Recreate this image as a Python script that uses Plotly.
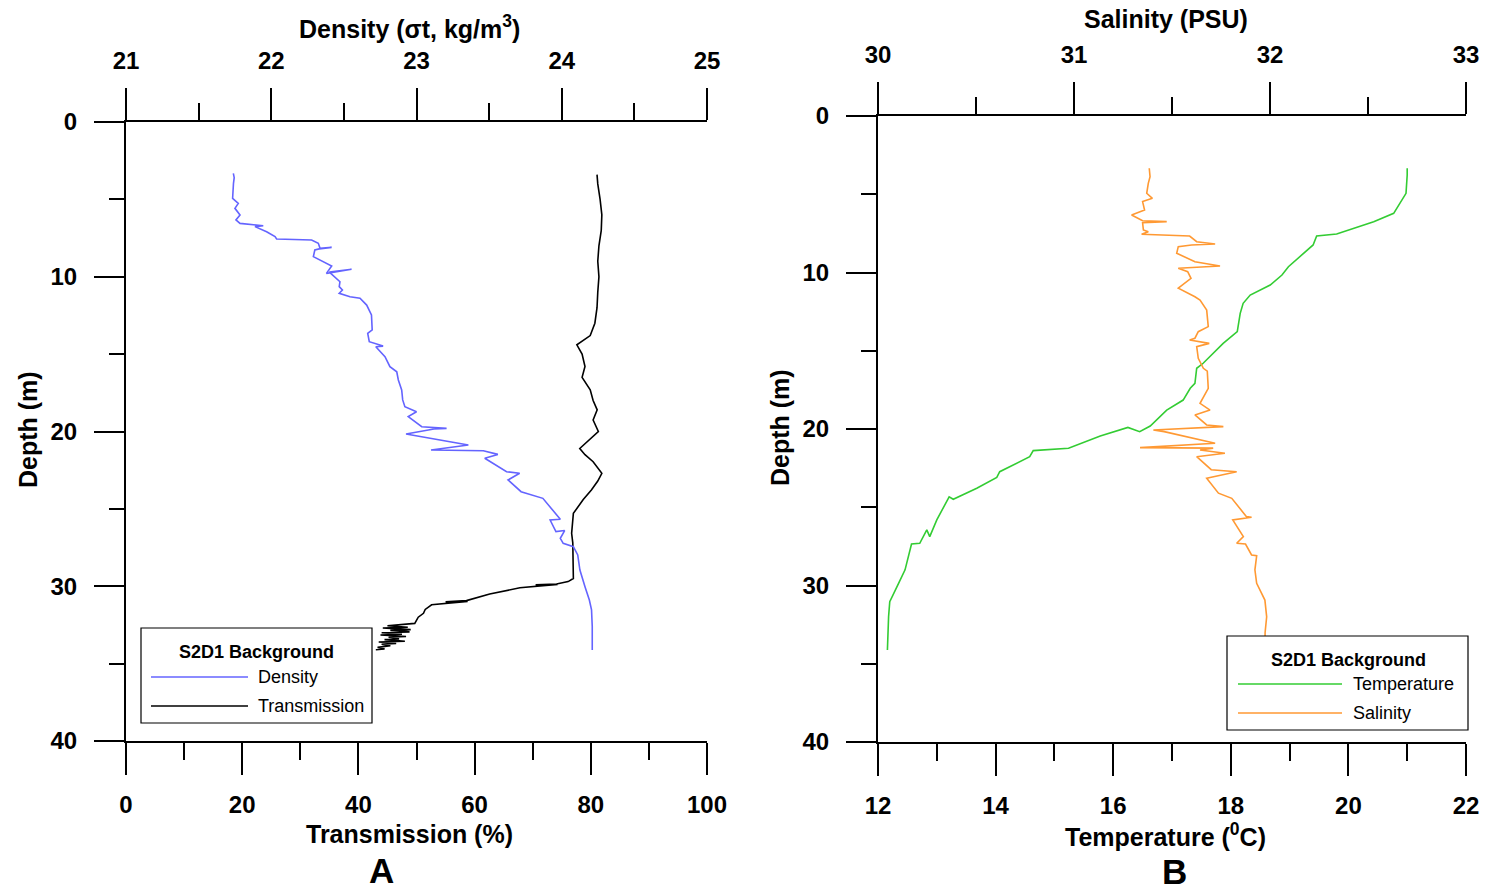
import plotly.graph_objects as go

W, H = 1487, 890

# ---------------- data ----------------
dens_depth = [3.32, 3.6, 3.96, 4.5, 4.93, 5.26, 5.58, 6.01, 6.33, 6.55, 6.66, 6.70, 6.76, 7.09, 7.41,
              7.56, 7.63, 7.84, 8.16, 8.10, 8.20, 8.27, 8.70, 9.31, 9.78, 9.52, 9.70, 10.32, 10.64,
              10.86, 11.07, 11.29, 11.39, 11.83, 12.47, 13.44, 13.66, 14.20, 14.48, 14.52, 15.17,
              15.81, 16.14, 16.67, 17.32, 17.96, 18.40, 18.72, 19.04, 19.69, 19.80, 19.84, 20.16,
              20.66, 20.87, 21.20, 21.24, 21.48, 21.73, 22.60, 22.70, 23.13, 23.89, 24.32, 25.07,
              25.67, 25.72, 26.47, 26.40, 26.90, 27.23, 27.44, 27.98, 28.95, 30.03, 30.89, 31.53,
              32.61, 34.12]
dens_val = [21.739, 21.745, 21.74, 21.735, 21.734, 21.773, 21.75, 21.785, 21.757, 21.785, 21.876,
            21.945, 21.888, 21.968, 22.026, 22.037, 22.278, 22.324, 22.336, 22.416, 22.33, 22.30,
            22.29, 22.416, 22.38, 22.553, 22.40, 22.473, 22.468, 22.49, 22.468, 22.542, 22.611,
            22.657, 22.69, 22.695, 22.664, 22.675, 22.77, 22.72, 22.783, 22.817, 22.864, 22.875,
            22.898, 22.905, 22.92, 23.0, 22.943, 23.036, 23.207, 23.12, 22.928, 23.23, 23.357,
            23.10, 23.46, 23.56, 23.47, 23.62, 23.71, 23.63, 23.72, 23.87, 23.94, 23.99, 23.92,
            23.96, 24.02, 23.99, 24.01, 24.08, 24.11, 24.125, 24.16, 24.19, 24.205, 24.21, 24.21]

trans_depth = [3.4, 4.0, 5.0, 6.0, 7.0, 8.0, 9.0, 10.0, 11.0, 12.0, 13.0, 13.8, 14.4, 15.0, 15.8,
               16.5, 17.3, 18.0, 18.6, 19.26, 20.0, 20.5, 21.1, 21.5, 21.95, 22.7, 23.2, 23.78,
               24.4, 25.29, 25.9, 26.58, 27.2, 28.95, 29.5, 29.7, 29.85, 29.9, 29.88, 30.1, 30.5,
               30.93, 31.0, 30.98, 31.2, 31.5, 31.75, 32.0, 32.4, 32.55, 32.65, 32.7, 32.8, 32.85,
               32.95, 33.0, 33.1, 33.15, 33.25, 33.3, 33.4, 33.45, 33.55, 33.6, 33.7, 33.75, 33.85,
               33.95, 34.05, 34.1]
trans_val = [81.07, 81.2, 81.6, 81.9, 81.8, 81.4, 81.2, 81.4, 81.2, 81.07, 80.7, 79.9, 77.6, 78.5,
             79.0, 78.5, 79.9, 80.4, 81.1, 80.4, 81.3, 79.9, 78.1, 79.0, 80.4, 81.9, 81.2, 80.1,
             78.7, 77.0, 76.8, 76.7, 76.9, 76.9, 77.0, 76.1, 74.1, 70.5, 74.3, 67.8, 62.6,
             58.6, 55.0, 58.8, 52.6, 51.5, 51.2, 50.3, 49.7, 45.0, 48.5, 44.2, 49.0, 45.5,
             48.8, 44.0, 47.5, 43.8, 48.2, 45.2, 47.0, 44.5, 48.0, 43.5, 46.5, 44.0, 45.5,
             43.3, 44.5, 43.0]

temp_depth = [3.34, 3.77, 4.94, 5.37, 6.22, 6.75, 7.54, 7.67, 8.24, 9.63, 10.16, 10.8, 11.44, 11.97,
              12.61, 13.78, 14.53, 15.80, 16.12, 17.08, 17.40, 18.15, 18.79, 19.81, 20.17, 19.90,
              20.45, 21.23, 21.38, 21.77, 22.73, 23.09, 23.79, 24.49, 24.33, 25.81, 26.88, 26.45,
              27.3, 27.35, 28.05, 29.0, 29.86, 31.03, 32.0, 34.12]
temp_val = [21.0, 21.0, 20.98, 20.91, 20.77, 20.43, 19.80, 19.46, 19.40, 18.98, 18.87, 18.67, 18.33,
            18.21, 18.16, 18.11, 17.87, 17.53, 17.42, 17.39, 17.31, 17.19, 16.91, 16.63, 16.45,
            16.25, 15.78, 15.24, 14.64, 14.58, 14.07, 14.02, 13.68, 13.28, 13.21, 13.00, 12.88,
            12.83, 12.71, 12.57, 12.52, 12.46, 12.35, 12.20, 12.18, 12.16]

sal_depth = [3.34, 3.88, 4.30, 4.94, 5.26, 5.47, 6.01, 6.33, 6.69, 6.75, 6.82, 7.28, 7.39, 7.56, 7.67,
             8.03, 8.18, 8.24, 8.35, 8.77, 9.31, 9.58, 9.73, 9.95, 10.37, 11.0, 11.55, 11.76, 12.40,
             13.46, 13.78, 14.2, 14.31, 14.53, 14.74, 15.48, 16.12, 16.3, 17.4, 18.36, 18.79, 19.1,
             19.74, 19.85, 20.06, 20.17, 20.91, 21.19, 21.22, 21.34, 21.55, 21.77, 22.6, 22.73,
             23.15, 24.1, 24.43, 25.6, 25.64, 25.81, 26.88, 27.3, 27.35, 28.05, 28.1, 29.0, 29.86,
             30.93, 32.0, 33.0, 34.12]
sal_val = [31.384, 31.388, 31.379, 31.371, 31.40, 31.35, 31.36, 31.294, 31.35, 31.473, 31.35, 31.354,
           31.379, 31.345, 31.59, 31.626, 31.72, 31.60, 31.532, 31.524, 31.617, 31.745, 31.532,
           31.58, 31.597, 31.532, 31.617, 31.643, 31.677, 31.685, 31.634, 31.617, 31.59, 31.69,
           31.626, 31.634, 31.66, 31.68, 31.685, 31.643, 31.694, 31.617, 31.677, 31.762, 31.405,
           31.46, 31.72, 31.337, 31.71, 31.643, 31.77, 31.626, 31.70, 31.83, 31.677, 31.737,
           31.805, 31.88, 31.906, 31.81, 31.864, 31.83, 31.875, 31.906, 31.932, 31.923, 31.932,
           31.974, 31.983, 31.975, 31.974]

legend_title = "S2D1 Background"
legend_a = ["Density", "Transmission"]
legend_b = ["Temperature", "Salinity"]

# ---------------- style ----------------
FONT = "Liberation Sans, Arial, sans-serif"
C_DENS, C_TRANS, C_TEMP, C_SAL = "#6464FF", "#000000", "#33CC33", "#FF9933"


def px(x):
    return x / W


def py(y):
    return 1 - y / H


fig = go.Figure()
fig.add_trace(go.Scatter(x=trans_val, y=trans_depth, xaxis="x", yaxis="y", mode="lines",
                         line=dict(color=C_TRANS, width=1.6), name=legend_a[1]))
fig.add_trace(go.Scatter(x=dens_val, y=dens_depth, xaxis="x2", yaxis="y", mode="lines",
                         line=dict(color=C_DENS, width=1.6), name=legend_a[0]))
fig.add_trace(go.Scatter(x=temp_val, y=temp_depth, xaxis="x3", yaxis="y2", mode="lines",
                         line=dict(color=C_TEMP, width=1.6), name=legend_b[0]))
fig.add_trace(go.Scatter(x=sal_val, y=sal_depth, xaxis="x4", yaxis="y2", mode="lines",
                         line=dict(color=C_SAL, width=1.6), name=legend_b[1]))

tickfont = dict(family=FONT, size=24, color="black", weight="bold")


def xax(domain, rng, dtick, mdtick, side, anchor, overlaying=None):
    d = dict(domain=domain, range=rng, dtick=dtick, tick0=rng[0], side=side, anchor=anchor,
             automargin=False,
             ticks="outside", ticklen=32, tickwidth=1.5, tickcolor="black",
             showline=True, linewidth=2, linecolor="black", showgrid=False, zeroline=False,
             tickfont=tickfont, ticklabelstandoff=9,
             minor=dict(dtick=mdtick, tick0=rng[0], ticks="outside", ticklen=17, tickwidth=1.5,
                        tickcolor="black", showgrid=False))
    if overlaying:
        d["overlaying"] = overlaying
    return d


def yax(domain, anchor):
    return dict(domain=domain, range=[40, 0], dtick=10, tick0=0, anchor=anchor,
                automargin=False,
                ticks="outside", ticklen=30, tickwidth=1.5, tickcolor="black",
                showline=True, linewidth=2, linecolor="black", showgrid=False, zeroline=False,
                tickfont=tickfont, ticklabelstandoff=12,
                minor=dict(dtick=5, tick0=0, ticks="outside", ticklen=15, tickwidth=1.5,
                           tickcolor="black", showgrid=False))


A_dom = [px(126), px(707)]
B_dom = [px(878), px(1466)]
Ay_dom = [py(741), py(122)]
By_dom = [py(742), py(116)]

fig.update_layout(
    width=W, height=H, autosize=False,
    margin=dict(l=0, r=0, t=0, b=0, autoexpand=False),
    paper_bgcolor="white", plot_bgcolor="white",
    showlegend=False,
    xaxis=xax(A_dom, [0, 100], 20, 10, "bottom", "y"),
    xaxis2=xax(A_dom, [21, 25], 1, 0.5, "top", "y", overlaying="x"),
    xaxis3=xax(B_dom, [12, 22], 2, 1, "bottom", "y2"),
    xaxis4=xax(B_dom, [30, 33], 1, 0.5, "top", "y2", overlaying="x3"),
    yaxis=yax(Ay_dom, "x"),
    yaxis2=yax(By_dom, "x3"),
)

anns = []
shapes = []


def title(text, x, y, size=25, angle=0):
    anns.append(dict(text=text, x=px(x), y=py(y), xref="paper", yref="paper", showarrow=False,
                     xanchor="center", yanchor="middle", textangle=angle,
                     font=dict(family=FONT, size=size, color="black", weight="bold")))


title("Density (\u03c3t, kg/m<sup>3</sup>)", 409, 27)
title("Transmission (%)", 409, 834)
title("A", 382, 870, size=35)
title("Depth (m)", 28, 430, angle=-90)
title("Salinity (PSU)", 1166, 19)
title("Temperature (<sup>0</sup>C)", 1165, 835)
title("B", 1174, 871, size=35)
title("Depth (m)", 780, 428, angle=-90)


def legend(box, tx, ty, entries):
    x0, y0, x1, y1 = box
    shapes.append(dict(type="rect", xref="paper", yref="paper", x0=px(x0), x1=px(x1),
                       y0=py(y1), y1=py(y0), line=dict(color="black", width=1.2),
                       fillcolor="white", layer="above"))
    anns.append(dict(text=legend_title, x=px(tx), y=py(ty), xref="paper", yref="paper",
                     showarrow=False, xanchor="center", yanchor="middle",
                     font=dict(family=FONT, size=18, color="black", weight="bold")))
    for (lx0, lx1, ly, color, label, textx) in entries:
        shapes.append(dict(type="line", xref="paper", yref="paper", x0=px(lx0), x1=px(lx1),
                           y0=py(ly), y1=py(ly), line=dict(color=color, width=1.6),
                           layer="above"))
        anns.append(dict(text=label, x=px(textx), y=py(ly), xref="paper", yref="paper",
                         showarrow=False, xanchor="left", yanchor="middle",
                         font=dict(family=FONT, size=18, color="black")))


legend((141, 628, 372, 723), 256, 652,
       [(151, 248, 677, C_DENS, legend_a[0], 256), (151, 248, 706, C_TRANS, legend_a[1], 256)])
legend((1227, 636, 1468, 730), 1348, 660,
       [(1238, 1342, 684, C_TEMP, legend_b[0], 1351), (1238, 1342, 713, C_SAL, legend_b[1], 1351)])

fig.update_layout(annotations=anns, shapes=shapes)
fig.write_html("out.html")
